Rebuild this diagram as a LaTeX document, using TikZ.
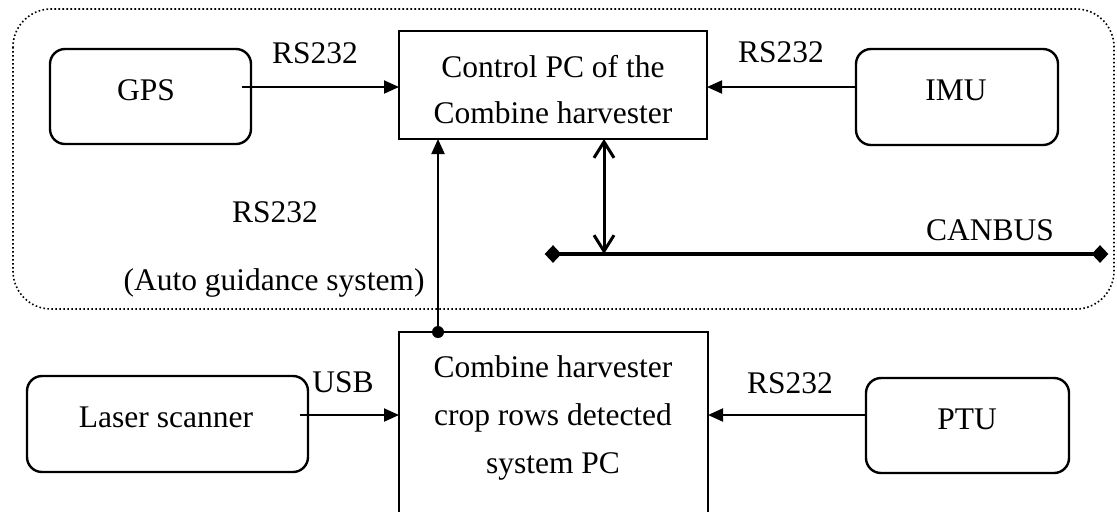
\documentclass[tikz,border=0pt]{standalone}
\usepackage{fontspec}
\setmainfont{Liberation Serif}
\usetikzlibrary{arrows.meta,shapes.geometric}
\begin{document}
\begin{tikzpicture}[x=0.5pt,y=-0.5pt,
  lbl/.style={font=\fontsize{15.75pt}{23pt}\selectfont, inner sep=0pt, anchor=base, align=center},
  lblb/.style={font=\fontsize{15.75pt}{24pt}\selectfont, inner sep=0pt, anchor=base, align=center},
  dev/.style={draw, line width=1.2pt, rounded corners=7.5pt, inner sep=0pt, outer sep=0pt},
  pcbox/.style={draw, line width=1pt, inner sep=0pt, outer sep=0pt},
  arr/.style={line width=1pt, -{Triangle[length=7.5pt,width=6.5pt]}},
  dbl/.style={line width=1.5pt, {Straight Barb[length=8pt,width=10pt]}-{Straight Barb[length=8pt,width=10pt]}},
  endmark/.style={diamond, fill, inner sep=0pt, minimum width=8.5pt, minimum height=9pt}
]
\useasboundingbox (0,0) rectangle (1117,511);
\clip (0,0) rectangle (1117,511);

% dotted group
\draw[line width=0.8pt, dash pattern=on 0.8pt off 1.2pt, rounded corners=19pt] (13,9) rectangle (1114,309);

% boxes
\node[dev, minimum width=100.5pt, minimum height=47.5pt] (gps) at (150.5,96.5) {};
\node[lbl] (gpst) at (146,100) {GPS};
\node[pcbox, minimum width=154pt, minimum height=54pt] (ctrl) at (553,85) {};
\node[lbl] (ctrlt) at (553,123) {Control PC of the\\Combine harvester};
\node[dev, minimum width=101pt, minimum height=48pt] (imu) at (957,97) {};
\node[lbl] (imut) at (956,100) {IMU};
\node[dev, minimum width=140.5pt, minimum height=48pt] (laser) at (167.5,424) {};
\node[lbl] (lasert) at (166,427) {Laser scanner};
\node[pcbox, minimum width=154.5pt, minimum height=104pt] (bot) at (553.5,436) {};
\node[lblb] (bott) at (553,473) {Combine harvester\\crop rows detected\\system PC};
\node[dev, minimum width=101.5pt, minimum height=47.5pt] (ptu) at (967.5,425.5) {};
\node[lbl] (ptut) at (967,429) {PTU};

% connectors
\draw[arr] ([shift={(-9,-9.5)}]gps.east) coordinate (g1) -- (g1 -| ctrl.west);
\draw[arr] ([shift={(0,-10)}]imu.west) coordinate (i1) -- (i1 -| ctrl.east);
\draw[arr] ([shift={(-8,-9)}]laser.east) coordinate (l1) -- (l1 -| bot.west);
\draw[arr] ([shift={(0,-10.5)}]ptu.west) coordinate (p1) -- (p1 -| bot.east);
\coordinate (dt) at ([shift={(-115.5,0)}]bot.north);
\draw[arr] (dt) -- (dt |- ctrl.south);
\fill (dt) circle (3pt);

% CANBUS
\node[endmark] (cl) at (553,254) {};
\node[endmark] (cr) at (1100,254) {};
\draw[line width=2.4pt] (cl.center) -- (cr.center);
\draw[dbl] ([shift={(51,0)}]ctrl.south) coordinate (c1) -- (c1 |- cl.center);

% labels
\node[lbl] (l1t) at (315,63) {RS232};
\node[lbl] (l2t) at (781,62) {RS232};
\node[lbl] (l3t) at (275,222) {RS232};
\node[lbl] (l4t) at (274,290) {(Auto guidance system)};
\node[lbl] (l5t) at (343,392) {USB};
\node[lbl] (l6t) at (790,393) {RS232};
\node[lbl] (l7t) at (990,240) {CANBUS};
\end{tikzpicture}
\end{document}
